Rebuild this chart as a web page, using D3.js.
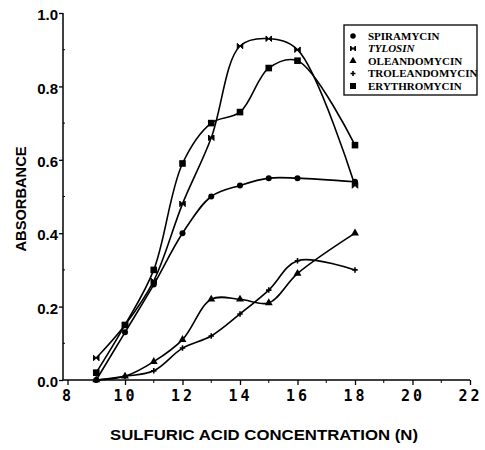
<!DOCTYPE html>
<html>
<head>
<meta charset="utf-8">
<script src="https://cdn.jsdelivr.net/npm/d3@7"></script>
<style>
body { margin: 0; background: #fff; }
svg { display: block; }
</style>
</head>
<body>
<div class="chart"></div>
<script>
// acid concentration (N) where absorbance was read
var conc = [9, 10, 11, 12, 13, 14, 15, 16, 18];

var spiramycin     = [0.00, 0.13, 0.26, 0.40, 0.50, 0.53, 0.55, 0.55, 0.54];
var tylosin        = [0.06, 0.15, 0.27, 0.48, 0.66, 0.91, 0.93, 0.90, 0.53];
var oleandomycin   = [0.00, 0.01, 0.05, 0.11, 0.22, 0.22, 0.21, 0.29, 0.40];
var troleandomycin = [0.00, 0.01, 0.025, 0.087, 0.12, 0.18, 0.245, 0.325, 0.30];
var erythromycin   = [0.02, 0.15, 0.30, 0.59, 0.70, 0.73, 0.85, 0.87, 0.64];

var names = ["SPIRAMYCIN", "TYLOSIN", "OLEANDOMYCIN", "TROLEANDOMYCIN", "ERYTHROMYCIN"];
var markers = ["circle", "bowtie", "triangle", "plus", "square"];

var xTicks = [8, 10, 12, 14, 16, 18, 20, 22];
var yTicks = [0, 0.2, 0.4, 0.6, 0.8, 1.0];

var series = [spiramycin, tylosin, oleandomycin, troleandomycin, erythromycin];

var width = 485, height = 450;

var x = d3.scaleLinear().domain([8, 22]).range([67.5, 470]);
var y = d3.scaleLinear().domain([0, 1]).range([380, 13]);

var svg = d3.select(".chart").append("svg")
    .attr("width", width)
    .attr("height", height);

// axes
var xAxis = svg.append("g")
    .attr("transform", "translate(0," + y(0) + ")")
    .call(d3.axisBottom(x).tickValues(xTicks).tickSize(5).tickFormat(d3.format("d")));
xAxis.select(".domain").attr("d", "M" + 63 + ",0H" + x(22)).attr("stroke-width", 1.5);
xAxis.selectAll(".tick line").attr("stroke-width", 1.3);
xAxis.selectAll(".tick text")
    .attr("y", 10)
    .attr("font-family", "DejaVu Sans Mono, monospace")
    .attr("font-weight", "bold")
    .attr("font-size", 15)
    .attr("letter-spacing", 3)
    .attr("fill", "#000");
// minor x ticks
xAxis.selectAll(".minor").data(d3.range(9, 22, 2)).enter()
    .append("line").attr("class", "minor")
    .attr("x1", function(d){ return x(d); }).attr("x2", function(d){ return x(d); })
    .attr("y1", 0).attr("y2", 3).attr("stroke", "#000");

var yAxis = svg.append("g")
    .attr("transform", "translate(63,0)")
    .call(d3.axisLeft(y).tickValues(yTicks).tickSize(4).tickFormat(d3.format(".1f")));
yAxis.select(".domain").attr("d", "M0," + y(0) + "V" + y(1)).attr("stroke-width", 1.5);
yAxis.selectAll(".tick line").attr("stroke-width", 1.3);
yAxis.selectAll(".tick text")
    .attr("x", -5)
    .attr("dy", "0.45em")
    .attr("font-family", "Liberation Sans, Arial, sans-serif")
    .attr("font-weight", "bold")
    .attr("font-size", 15)
    .attr("fill", "#000");
yAxis.selectAll(".minor").data(d3.range(0.1, 1, 0.2)).enter()
    .append("line").attr("class", "minor")
    .attr("x1", 0).attr("x2", 2)
    .attr("y1", function(d){ return y(d); }).attr("y2", function(d){ return y(d); })
    .attr("stroke", "#000");

svg.append("text")
    .attr("transform", "translate(26,199) rotate(-90)")
    .attr("text-anchor", "middle")
    .attr("font-family", "Liberation Sans, Arial, sans-serif")
    .attr("font-weight", "bold")
    .attr("font-size", 15)
    .attr("textLength", 105)
    .attr("lengthAdjust", "spacingAndGlyphs")
    .text("ABSORBANCE");

svg.append("text")
    .attr("x", 264)
    .attr("y", 440)
    .attr("text-anchor", "middle")
    .attr("font-family", "Liberation Sans, Arial, sans-serif")
    .attr("font-weight", "bold")
    .attr("font-size", 15)
    .attr("textLength", 308)
    .attr("lengthAdjust", "spacingAndGlyphs")
    .text("SULFURIC ACID CONCENTRATION (N)");

// curves
var line = d3.line()
    .x(function(d){ return x(d[0]); })
    .y(function(d){ return y(d[1]); })
    .curve(d3.curveCatmullRom.alpha(0.5));

function drawMarker(g, type, s) {
    if (type === "circle") {
        g.append("circle").attr("r", s * 0.55).attr("fill", "#000");
    } else if (type === "square") {
        g.append("rect").attr("x", -s * 0.6).attr("y", -s * 0.6)
            .attr("width", s * 1.2).attr("height", s * 1.2).attr("fill", "#000");
    } else if (type === "triangle") {
        g.append("path").attr("d", d3.symbol(d3.symbolTriangle, s * s * 0.9)).attr("fill", "#000");
    } else if (type === "plus") {
        g.append("path").attr("d", "M" + (-s/2) + ",0H" + (s/2) + "M0," + (-s/2) + "V" + (s/2))
            .attr("stroke", "#000").attr("stroke-width", 1.6);
    } else if (type === "bowtie") {
        var h = s / 2;
        g.append("path")
            .attr("d", "M" + (-h) + "," + (-h) + "V" + h + "L0,0L" + h + "," + h + "V" + (-h) + "L0,0Z")
            .attr("fill", "#000").attr("stroke", "#000").attr("stroke-width", 1);
    }
}

series.forEach(function(vals, i) {
    var pts = conc.map(function(c, j){ return [c, vals[j]]; });
    svg.append("path")
        .datum(pts)
        .attr("d", line)
        .attr("fill", "none")
        .attr("stroke", "#000")
        .attr("stroke-width", 1.6);
    pts.forEach(function(p) {
        var g = svg.append("g").attr("transform", "translate(" + x(p[0]) + "," + y(p[1]) + ")");
        drawMarker(g, markers[i], 5.5);
    });
});

// legend
var legend = svg.append("g");
legend.append("rect")
    .attr("x", 344).attr("y", 25).attr("width", 133).attr("height", 70)
    .attr("fill", "#fff").attr("stroke", "#000").attr("stroke-width", 1.3);
names.forEach(function(n, i) {
    var ry = 36 + i * 12.5;
    var g = legend.append("g").attr("transform", "translate(353," + ry + ")");
    drawMarker(g, markers[i], 5);
    legend.append("text")
        .attr("x", 368).attr("y", ry + 3.5)
        .attr("font-family", "Liberation Serif, Times New Roman, serif")
        .attr("font-weight", "bold")
        .attr("font-size", 11)
        .attr("font-style", n === "TYLOSIN" ? "italic" : "normal")
        .text(n);
});
</script>
</body>
</html>
